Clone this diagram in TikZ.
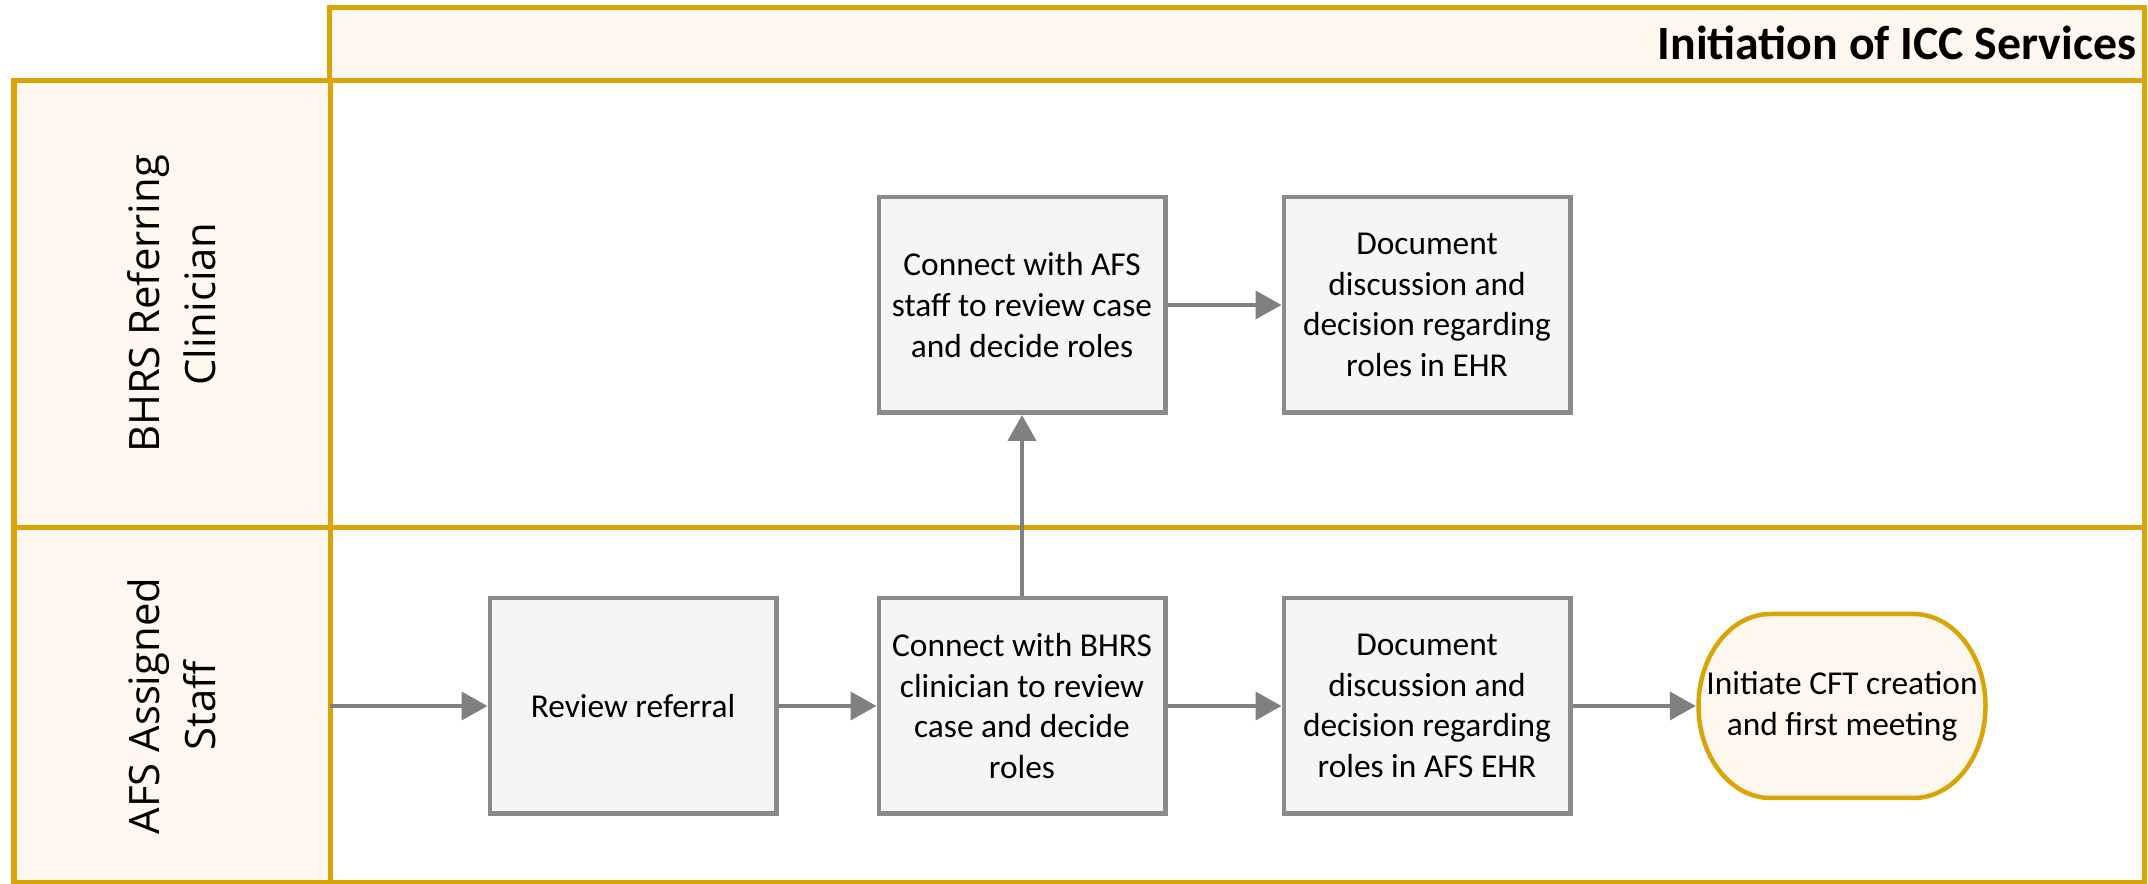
\documentclass[tikz,border=0pt]{standalone}
\usepackage{fontspec}
\setmainfont{Carlito}
\newfontfamily\lanefont{Open Sans}
\usepackage{tikz}
\usetikzlibrary{positioning, arrows.meta, calc}
\usepackage{xcolor}

\definecolor{lanegold}{RGB}{217,164,6}
\definecolor{lanecream}{RGB}{254,247,240}
\definecolor{stepfill}{RGB}{245,245,245}
\definecolor{stepline}{RGB}{138,138,138}
\definecolor{flowgray}{RGB}{128,128,128}

\tikzset{
  lanebox/.style={draw=lanegold, line width=0.05cm},
  lanehead/.style={lanebox, fill=lanecream},
  lanelabel/.style={rotate=90, align=center, font=\lanefont\fontsize{11.9}{15.9}\selectfont},
  stepbox/.style={draw=stepline, fill=stepfill, line width=0.045cm, minimum width=2.865cm,
    minimum height=2.155cm, inner sep=0pt, align=center, font=\fontsize{9.5}{11.6}\selectfont},
  endbox/.style={minimum width=2.91cm, minimum height=1.88cm, inner sep=0pt, align=center,
    font=\fontsize{9.5}{11.6}\selectfont},
  flow/.style={draw=flowgray, line width=0.04cm, -{Triangle[length=0.26cm, width=0.28cm]}}
}

\begin{document}
\begin{tikzpicture}
  \useasboundingbox (0,0) rectangle (21.48,8.84);

  % Header and lanes
  \draw[lanehead] (3.29,8.76) rectangle (21.44,8.03);
  \draw[lanebox] (0.14,8.03) rectangle (21.44,3.56);
  \draw[lanebox] (0.14,3.56) rectangle (21.44,0.01);
  \draw[lanehead] (0.14,8.03) rectangle (3.30,3.56);
  \draw[lanehead] (0.14,3.56) rectangle (3.30,0.01);

  % Title and lane names
  \node[anchor=east, inner sep=0pt, font=\bfseries\fontsize{13.6}{16}\selectfont] (title) at (21.37,8.41) {Initiation of ICC Services};
  \node[lanelabel] (bhrs) at (1.72,5.80) {BHRS Referring\\Clinician};
  \node[lanelabel] (afs) at (1.72,1.78) {AFS Assigned\\Staff};

  % Steps, top lane
  \node[stepbox] (conafs) at (10.22,5.79) {Connect with AFS\\staff to review case\\and decide roles};
  \node[stepbox] (docbhrs) at (14.27,5.79) {Document\\discussion and\\decision regarding\\roles in EHR};

  % Steps, bottom lane
  \coordinate (start) at (3.30,1.78);
  \node[stepbox] (review) at (6.33,1.78) {Review referral};
  \node[stepbox] (conbhrs) at (10.22,1.78) {Connect with BHRS\\clinician to review\\case and decide\\roles};
  \node[stepbox] (docafs) at (14.27,1.78) {Document\\discussion and\\decision regarding\\roles in AFS EHR};

  % End step
  \coordinate (cftc) at (18.42,1.78);
  \draw[draw=lanegold, fill=lanecream, line width=0.045cm]
    ($(cftc)+(-0.715,0.92)$) -- ($(cftc)+(0.715,0.92)$)
    arc[start angle=90, end angle=-90, x radius=0.72, y radius=0.92]
    -- ($(cftc)+(-0.715,-0.92)$)
    arc[start angle=270, end angle=90, x radius=0.72, y radius=0.92] -- cycle;
  \node[endbox] (cft) at (cftc) {Initiate CFT creation\\and first meeting};

  % Flow
  \draw[flow] (start) -- (review);
  \draw[flow] (review) -- (conbhrs);
  \draw[flow] (conbhrs) -- (conafs);
  \draw[flow] (conafs) -- (docbhrs);
  \draw[flow] (conbhrs) -- (docafs);
  \draw[flow] (docafs) -- (cft);
\end{tikzpicture}
\end{document}
